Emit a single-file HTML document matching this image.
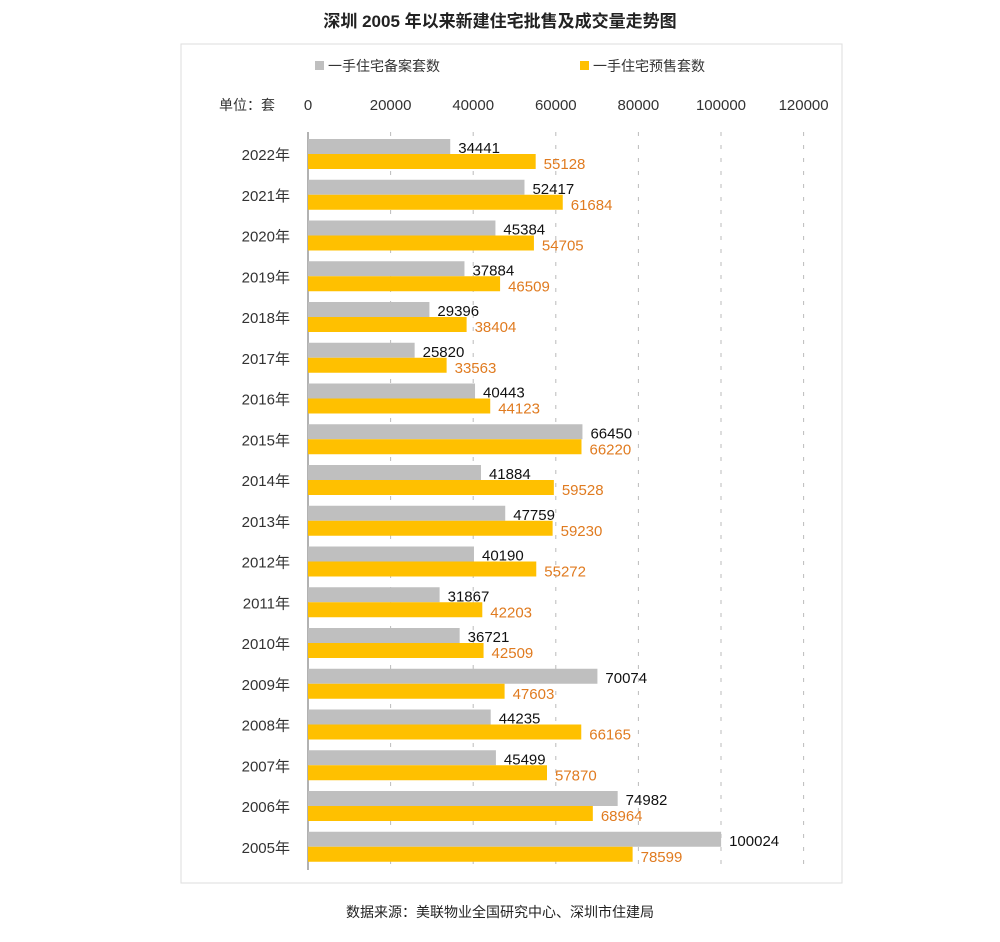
<!DOCTYPE html>
<html><head><meta charset="utf-8"><style>
body{margin:0;background:#fff;width:1000px;height:937px;overflow:hidden;font-family:"Liberation Sans","Noto Sans CJK SC",sans-serif;}
svg text{font-family:"Liberation Sans","Noto Sans CJK SC",sans-serif;}
</style></head><body>
<svg id="c" width="1000" height="937">
<text x="500" y="27" text-anchor="middle" font-size="17" font-weight="bold" fill="#222">深圳 2005 年以来新建住宅批售及成交量走势图</text>
<rect x="181" y="44" width="661" height="839" fill="#fff" stroke="#ddd"/>
<g>
<rect x="315" y="61" width="9" height="9" fill="#bfbfbf"/>
<text x="328" y="71" font-size="14" fill="#333">一手住宅备案套数</text>
<rect x="580" y="61" width="9" height="9" fill="#ffc000"/>
<text x="593" y="71" font-size="14" fill="#333">一手住宅预售套数</text>
</g>
<text x="219" y="110" font-size="14" fill="#333">单位：套</text>
<g id="grid"></g><g id="bars"></g>
<text x="500" y="917" text-anchor="middle" font-size="14" fill="#222">数据来源：美联物业全国研究中心、深圳市住建局</text>
</svg>
<script>
const years=["2022年","2021年","2020年","2019年","2018年","2017年","2016年","2015年","2014年","2013年","2012年","2011年","2010年","2009年","2008年","2007年","2006年","2005年"];
const filed=[34441,52417,45384,37884,29396,25820,40443,66450,41884,47759,40190,31867,36721,70074,44235,45499,74982,100024];
const presale=[55128,61684,54705,46509,38404,33563,44123,66220,59528,59230,55272,42203,42509,47603,66165,57870,68964,78599];
const ticks=[0,20000,40000,60000,80000,100000,120000];
const NS="http://www.w3.org/2000/svg";
const x=v=>308+v*(82.6/20000);
const rowTop=i=>139+i*40.75;
function mk(t,a,p){const e=document.createElementNS(NS,t);for(const k in a)e.setAttribute(k,a[k]);p.appendChild(e);return e;}
const g=document.getElementById('grid'),b=document.getElementById('bars');
ticks.forEach(t=>{
 const tl=mk('text',{x:x(t),y:110,'text-anchor':'middle','font-size':15,fill:'#333'},g);tl.textContent=t;
 
 
 if(t>0){const l=mk('line',{x1:x(t),x2:x(t),y1:132,y2:870,stroke:'#bbb','stroke-dasharray':'4,9'},g);
 
 }
});
const ax=mk('line',{x1:308,x2:308,y1:132,y2:870,stroke:'#666'},g);


years.forEach((y,i)=>{
 const t=rowTop(i);
 const yl=mk('text',{x:290,y:t+21,'text-anchor':'end','font-size':15,fill:'#333'},b);yl.textContent=y;
 
 
 const r1=mk('rect',{x:308,y:t,width:x(filed[i])-308,height:15,fill:'#bfbfbf'},b);
 
 
 const r2=mk('rect',{x:308,y:t+15,width:x(presale[i])-308,height:15,fill:'#ffc000'},b);
 
 
 const v1=mk('text',{x:x(filed[i])+8,y:t+14,'font-size':15,fill:'#111'},b);v1.textContent=filed[i];
 
 
 const v2=mk('text',{x:x(presale[i])+8,y:t+30,'font-size':15,fill:'#e07b20'},b);v2.textContent=presale[i];
 
 
});
</script>
</body></html>
